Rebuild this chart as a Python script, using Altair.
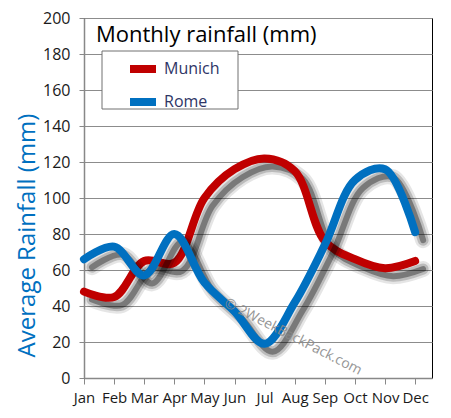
import altair as alt
import pandas as pd

months = ["Jan", "Feb", "Mar", "Apr", "May", "Jun", "Jul", "Aug", "Sep", "Oct", "Nov", "Dec"]
munich = [48, 45, 65, 64, 100, 116, 122, 115, 76, 66, 61, 65]
rome = [66, 73, 57, 80, 53, 37, 19, 42, 74, 110, 116, 81]
series = ["Munich", "Rome"]
colors = ["#c00000", "#0070c0"]
y_ticks = list(range(0, 201, 20))
title_text = "Monthly rainfall (mm)"
y_title = "Average Rainfall (mm)"
watermark = "\u00a9 2WeekBackPack.com"

FONT = "Open Sans"

rows = []
for i, m in enumerate(months):
    rows.append({"idx": i, "month": m, "city": "Munich", "rain": munich[i]})
    rows.append({"idx": i, "month": m, "city": "Rome", "rain": rome[i]})
df = pd.DataFrame(rows)

label_expr = "[" + ",".join("'%s'" % m for m in months) + "][datum.value]"

x_enc = alt.X(
    "idx:Q",
    scale=alt.Scale(domain=[0, 11.56], nice=False, zero=False),
    axis=alt.Axis(
        values=list(range(12)), labelExpr=label_expr, grid=False, title=None,
        tickSize=6, tickColor="#888888", domainColor="#888888", domainWidth=1.5,
        labelFontSize=15, labelPadding=6, labelColor="#1a1a1a", labelFont=FONT,
        labelFlush=False,
    ),
)
y_enc = alt.Y(
    "rain:Q",
    scale=alt.Scale(domain=[0, 200], nice=False),
    axis=alt.Axis(
        values=y_ticks, grid=True, gridColor="#8c8c8c", gridWidth=1,
        tickSize=5, tickColor="#888888", domainColor="#888888", domainWidth=1.5,
        labelFontSize=16, labelPadding=9, labelColor="#1a1a1a", labelFont=FONT,
        title=y_title, titleColor="#0070c0", titleFontSize=24, titleFontWeight="normal",
        titleFont=FONT, titleAngle=-90, titleX=-57, titleY=217, titleAlign="center",
        titleBaseline="middle",
    ),
)

base = alt.Chart(df).encode(x=x_enc, y=y_enc)

layers = []
for name in series:
    sub = base.transform_filter(alt.datum.city == name)
    for w, op in [(16, 0.10), (11, 0.18), (6, 0.35)]:
        layers.append(
            sub.mark_line(interpolate="catmull-rom", strokeWidth=w, opacity=op,
                          xOffset=8, yOffset=8, strokeCap="round", color="black")
        )
    layers.append(
        sub.mark_line(interpolate="catmull-rom", strokeWidth=8, strokeCap="round").encode(
            color=alt.Color(
                "city:N",
                scale=alt.Scale(domain=series, range=colors),
                legend=alt.Legend(
                    orient="none", legendX=42, legendY=34, title=None,
                    symbolType="stroke", symbolSize=676, symbolStrokeWidth=8,
                    labelFontSize=16, labelColor="#2e3566", labelFont=FONT,
                    labelOffset=4, padding=0, rowPadding=0,
                ),
            )
        )
    )

box = alt.Chart(pd.DataFrame({"a": [0]})).mark_rect(
    fill="white", stroke="#707070", strokeWidth=1
).encode(x=alt.value(18), x2=alt.value(154), y=alt.value(33), y2=alt.value(91))

title = alt.Chart(pd.DataFrame({"t": [title_text]})).mark_text(
    align="left", baseline="alphabetic", fontSize=22, font=FONT, color="black"
).encode(text="t:N", x=alt.value(12), y=alt.value(24))

wm = alt.Chart(pd.DataFrame({"t": [watermark]})).mark_text(
    align="center", baseline="middle", fontSize=14, font=FONT, color="#8a8a8a",
    angle=27, opacity=0.9
).encode(text="t:N", x=alt.value(209), y=alt.value(319))

chart = alt.layer(box, *layers, title, wm).properties(
    width=348, height=360,
    autosize=alt.AutoSizeParams(type="none"),
    padding={"left": 76, "top": 10, "right": 10, "bottom": 32},
).configure_view(stroke="black", strokeWidth=1)

chart.save("out.html", embed_options={"renderer": "svg", "actions": False})
